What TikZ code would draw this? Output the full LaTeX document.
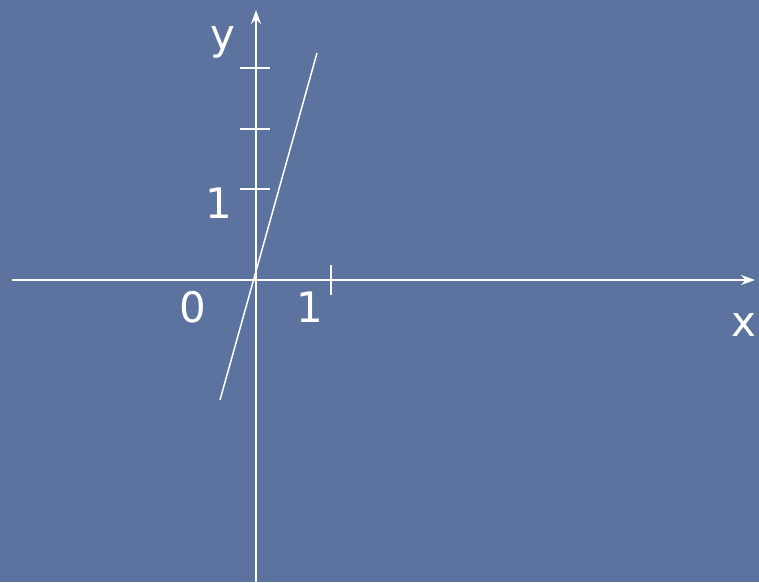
\documentclass[tikz,border=0pt]{standalone}
\usepackage{fontspec}
\setmainfont{DejaVu Sans}
\usetikzlibrary{arrows.meta}
\definecolor{slate}{RGB}{91,115,158}

\begin{document}
\begin{tikzpicture}[x=1pt,y=-1pt,font=\fontsize{42}{42}\selectfont,
  axis/.style={white,line width=2pt,-{Stealth[length=14pt,width=10pt]}},
  tick/.style={white,line width=1.6pt},
  lbl/.style={white,inner sep=0pt}]
  \fill[slate] (0,0) rectangle (759,582);
  \useasboundingbox (0,0) rectangle (759,582);
  \coordinate (xs) at (12,280);
  \coordinate (xe) at (755,280);
  \coordinate (ys) at (256,582);
  \coordinate (ye) at (256,10);
  \draw[axis] (xs) -- (xe);
  \draw[axis] (ys) -- (ye);
  \foreach \ty in {68,129,189}
    \draw[tick] (240,\ty) -- (270,\ty);
  \draw[tick] (331,265) -- (331,295);
  \coordinate (la) at (220,400);
  \coordinate (lb) at (317,53);
  \draw[white,line width=1.5pt] (la) -- (lb);
  \node[lbl] (ylab) at (223,42) {y};
  \node[lbl] (xlab) at (744,325) {x};
  \node[lbl] (origin) at (193,307) {0};
  \node[lbl] (xone) at (310,307) {1};
  \node[lbl] (yone) at (219,203) {1};
\end{tikzpicture}
\end{document}
